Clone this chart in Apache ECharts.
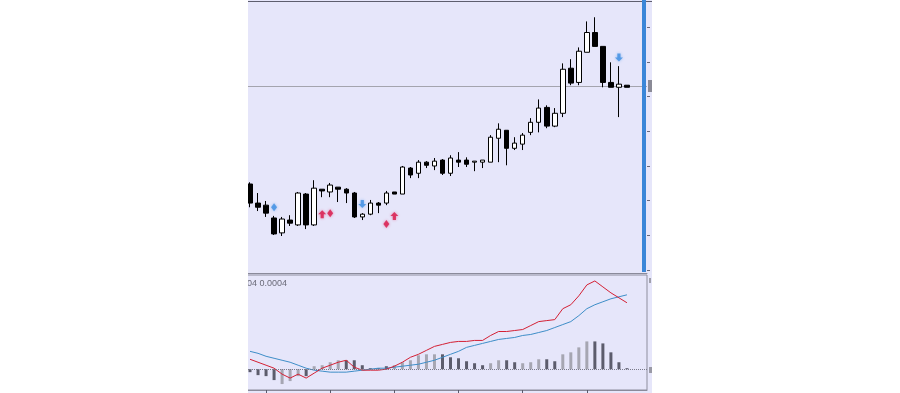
<!DOCTYPE html>
<html>
<head>
<meta charset="utf-8">
<script src="https://cdn.jsdelivr.net/npm/echarts@6/dist/echarts.min.js"></script>
<style>html,body{margin:0;padding:0;background:#fff;}#c{width:900px;height:393px;}</style>
</head>
<body>
<div id="c"></div>
<script>
const categories = ['01','02','03','04','05','06','07','08','09','10','11','12','13','14','15','16','17','18','19','20','21','22','23','24','25','26','27','28','29','30','31','32','33','34','35','36','37','38','39','40','41','42','43','44','45','46','47','48'];
const opens  = [1.12148,1.12093,1.12087,1.12050,1.12007,1.12044,1.12030,1.12119,1.12030,1.12133,1.12125,1.12139,1.12133,1.12122,1.12053,1.12061,1.12093,1.12093,1.12125,1.12119,1.12194,1.12179,1.12211,1.12200,1.12217,1.12179,1.12217,1.12217,1.12211,1.12211,1.12211,1.12280,1.12303,1.12251,1.12263,1.12297,1.12326,1.12369,1.12315,1.12352,1.12482,1.12441,1.12528,1.12585,1.12545,1.12441,1.12427,1.12433];
const closes = [1.12093,1.12081,1.12064,1.12004,1.12047,1.12035,1.12122,1.12030,1.12136,1.12128,1.12145,1.12133,1.12122,1.12053,1.12061,1.12093,1.12087,1.12122,1.12119,1.12197,1.12174,1.12211,1.12202,1.12214,1.12179,1.12223,1.12211,1.12205,1.12214,1.12217,1.12283,1.12306,1.12251,1.12266,1.12289,1.12326,1.12367,1.12315,1.12352,1.12479,1.12439,1.12531,1.12585,1.12545,1.12441,1.12427,1.12436,1.12427];
const lows   = [1.12081,1.12070,1.12053,1.12001,1.11998,1.12027,1.12027,1.12018,1.12027,1.12110,1.12110,1.12096,1.12093,1.12050,1.12044,1.12058,1.12064,1.12087,1.12119,1.12119,1.12165,1.12165,1.12194,1.12188,1.12174,1.12171,1.12197,1.12197,1.12185,1.12194,1.12211,1.12211,1.12202,1.12246,1.12246,1.12289,1.12297,1.12309,1.12312,1.12341,1.12433,1.12433,1.12528,1.12545,1.12427,1.12427,1.12341,1.12427];
const highs  = [1.12153,1.12122,1.12099,1.12056,1.12053,1.12058,1.12125,1.12122,1.12159,1.12133,1.12151,1.12139,1.12136,1.12125,1.12064,1.12102,1.12096,1.12128,1.12125,1.12200,1.12197,1.12217,1.12214,1.12223,1.12220,1.12231,1.12240,1.12225,1.12214,1.12217,1.12289,1.12323,1.12303,1.12283,1.12295,1.12338,1.12392,1.12375,1.12367,1.12496,1.12508,1.12542,1.12617,1.12629,1.12545,1.12499,1.12488,1.12433];
const priceTicks = [1.119,1.120,1.121,1.122,1.123,1.124,1.125,1.126];
const currentPrice = 1.12430;

// signal markers: [bar index, price]
const buyArrows   = [[9,1.12061],[18,1.12056]];
const buyDiamonds = [[10,1.12064],[17,1.12033]];
const sellArrows  = [[14,1.12090],[46,1.12513]];
const sellDiamonds= [[3,1.12081]];

// MACD sub-window (values in points, 1 point = 0.00001)
const macdMain   = [10,7,4,1,-5,-9,-5,-9,-4,1,4,7,9,2,-1,-1,-1,0,3,7,12,15,19,23,25,27,28,28,29,29,34,38,38,39,40,44,48,49,50,61,65,74,85,89,83,77,72,67];
const macdSignal = [18,16,13,11,9,7,4,1,-1,-2,-3,-3,-3,-2,-1,0,1,1,2,3,4,5,7,9,12,15,18,22,24,26,28,30,31,32,34,35,37,39,42,45,48,54,61,65,68,71,73,75];
const macdHist   = [-3,-6,-7,-11,-15,-12,-7,-7,3,4,7,9,9,9,4,1,1,3,4,7,9,14,15,15,15,12,11,8,6,4,6,9,9,7,6,7,10,10,8,15,17,22,28,28,26,17,7,1];
const histRising = [0,0,0,0,1,1,1,0,1,1,1,1,0,0,0,0,0,0,1,1,1,1,1,1,0,0,0,0,0,0,1,1,0,0,1,1,1,0,0,1,1,1,1,0,0,0,0,0];
const macdTitle = '04 0.0004';

const cats = categories.concat(['', '']);
const candleData = opens.map((o, i) => [o, closes[i], lows[i], highs[i]]);
const histData = macdHist.map((v, i) => ({value: v, itemStyle: {color: histRising[i] ? '#a6a6b2' : '#5c5c6c'}}));

const upPath = 'path://M4,0 L8,4.6 L5.6,4.6 L5.6,9 L2.4,9 L2.4,4.6 L0,4.6 Z';
const downPath = 'path://M2.4,0 L5.6,0 L5.6,4.4 L8,4.4 L4,9 L0,4.4 L2.4,4.4 Z';
const red = '#d8184a', blue = '#3f8fe2';
const tickEvery8 = function (i) { return i % 8 === 2; };

const chart = echarts.init(document.getElementById('c'), null, {renderer: 'canvas'});
chart.setOption({
  animation: false,
  backgroundColor: '#ffffff',
  grid: [
    {left: 246, top: 2, width: 401, height: 271, show: false},
    {left: 246, top: 275, width: 401, height: 115, show: true, borderColor: '#8e8e9e', borderWidth: 1, backgroundColor: 'transparent'}
  ],
  xAxis: [
    {type: 'category', gridIndex: 0, data: cats, boundaryGap: true,
     axisLine: {show: true, onZero: false, lineStyle: {color: '#8a8a9a'}}, axisTick: {show: false}, axisLabel: {show: false}, splitLine: {show: false}},
    {type: 'category', gridIndex: 1, data: cats, boundaryGap: true,
     axisLine: {show: true, onZero: false, lineStyle: {color: '#8a8a9a'}},
     axisTick: {show: true, alignWithLabel: true, interval: tickEvery8, length: 4, lineStyle: {color: '#5a5a6a'}},
     axisLabel: {show: false, interval: tickEvery8}, splitLine: {show: false}}
  ],
  yAxis: [
    {type: 'value', gridIndex: 0, position: 'right', min: 1.118913, max: 1.126730, scale: true,
     axisLine: {show: false}, axisLabel: {show: false}, splitLine: {show: false},
     axisTick: {show: true, inside: false, length: 3, customValues: priceTicks, lineStyle: {color: '#6a6a7a'}}},
    {type: 'value', gridIndex: 1, position: 'right', min: -21, max: 95,
     axisLine: {show: false}, axisLabel: {show: false}, splitLine: {show: false}, axisTick: {show: false}}
  ],
  series: [
    {type: 'candlestick', xAxisIndex: 0, yAxisIndex: 0, data: candleData, barWidth: 5,
     itemStyle: {color: '#ffffff', color0: '#000000', borderColor: '#000000', borderColor0: '#000000', borderWidth: 1}},
    {type: 'scatter', xAxisIndex: 0, yAxisIndex: 0, data: buyArrows, symbol: upPath, symbolSize: [8, 8],
     itemStyle: {color: red, shadowColor: 'rgba(230,40,90,0.6)', shadowBlur: 3}, z: 5,
     markLine: {silent: true, symbol: 'none', precision: 5, label: {show: false}, z: 1,
       lineStyle: {color: '#a4a4ae', type: 'solid', width: 1},
       data: [{yAxis: currentPrice}]}},
    {type: 'scatter', xAxisIndex: 0, yAxisIndex: 0, data: buyDiamonds, symbol: 'diamond', symbolSize: [6, 8],
     itemStyle: {color: red, shadowColor: 'rgba(230,40,90,0.6)', shadowBlur: 3}, z: 5},
    {type: 'scatter', xAxisIndex: 0, yAxisIndex: 0, data: sellArrows, symbol: downPath, symbolSize: [8, 8],
     itemStyle: {color: blue, shadowColor: 'rgba(60,140,230,0.6)', shadowBlur: 3}, z: 5},
    {type: 'scatter', xAxisIndex: 0, yAxisIndex: 0, data: sellDiamonds, symbol: 'diamond', symbolSize: [6, 8],
     itemStyle: {color: blue, shadowColor: 'rgba(60,140,230,0.6)', shadowBlur: 3}, z: 5},
    {type: 'bar', xAxisIndex: 1, yAxisIndex: 1, data: histData, barWidth: 3,
     markLine: {silent: true, symbol: 'none', label: {show: false},
       lineStyle: {color: '#7a7a8a', type: 'dotted', width: 1}, data: [{yAxis: 0}]}},
    {type: 'line', xAxisIndex: 1, yAxisIndex: 1, data: macdSignal, symbol: 'none', lineStyle: {color: '#3e8ec8', width: 1}, z: 4},
    {type: 'line', xAxisIndex: 1, yAxisIndex: 1, data: macdMain, symbol: 'none', lineStyle: {color: '#d42034', width: 1}, z: 4}
  ],
  graphic: [
    {type: 'rect', z: -10, silent: true, shape: {x: 248, y: 0, width: 404, height: 393}, style: {fill: '#e6e6fa'}},
    {type: 'line', z: 50, silent: true, shape: {x1: 248, y1: 1.5, x2: 652, y2: 1.5}, style: {stroke: '#5e5e6e', lineWidth: 1}},
    {type: 'rect', z: 50, silent: true, shape: {x: 642, y: 0, width: 4, height: 272}, style: {fill: '#3a86d8'}},
    {type: 'rect', z: 50, silent: true, shape: {x: 648, y: 80, width: 4, height: 12}, style: {fill: '#8a8a96'}},
    {type: 'rect', z: 50, silent: true, shape: {x: 649, y: 367, width: 3, height: 6}, style: {fill: '#9a9aa6'}},
    {type: 'rect', z: 50, silent: true, shape: {x: 649, y: 278, width: 2, height: 5}, style: {fill: '#a0a0ac'}},
    {type: 'text', z: 50, silent: true, style: {text: macdTitle, x: 247, y: 279, fill: '#6a6a78', font: '9px "Liberation Sans", Arial, sans-serif'}},
    {type: 'rect', z: 100, silent: true, shape: {x: 0, y: 0, width: 248, height: 393}, style: {fill: '#ffffff'}},
    {type: 'rect', z: 100, silent: true, shape: {x: 652, y: 0, width: 248, height: 393}, style: {fill: '#ffffff'}}
  ]
});
</script>
</body>
</html>
